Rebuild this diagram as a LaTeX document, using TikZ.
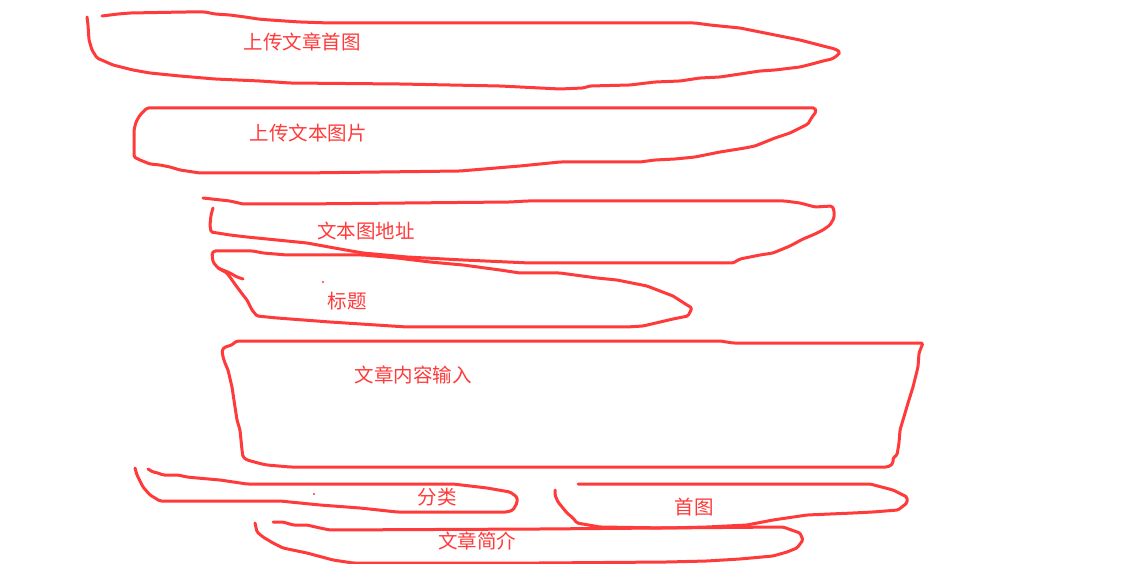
\documentclass[tikz,border=0pt]{standalone}
\usepackage{fontspec}
\newfontfamily\cjk{Noto Sans CJK SC}
\definecolor{pen}{RGB}{255,58,58}
\tikzset{
  stroke/.style={draw=pen, line width=3pt, line join=round, line cap=round, rounded corners=1.5pt},
  lbl/.style={text=pen, font=\cjk\fontsize{19.5}{20}\selectfont, inner sep=0pt, anchor=center},
  speck/.style={fill=pen, draw=none}
}
\begin{document}
\begin{tikzpicture}[x=1pt,y=-1pt]
\useasboundingbox (0,0) rectangle (1128,564);
\fill[white] (0,0) rectangle (1128,564);

% shape 1: 上传文章首图
\draw[stroke] (87,17) -- (88,25) -- (89,40) -- (92,50) -- (97,58) -- (113,65) -- (133,70) -- (150,73) -- (180,76) -- (215,79) -- (260,81) -- (290,83) -- (400,84) -- (500,86) -- (560,89) -- (583,88) -- (590,86) -- (630,85) -- (655,82) -- (680,81) -- (700,78) -- (720,77) -- (740,74) -- (760,71) -- (775,70) -- (800,67) -- (812,64) -- (823,61) -- (832,59) -- (838,55) -- (840,52) -- (835,49) -- (823,46) -- (800,40) -- (760,32) -- (740,28) -- (710,25) -- (695,23) -- (560,23) -- (330,23) -- (300,22) -- (285,21) -- (270,20) -- (258,19) -- (245,17) -- (230,15) -- (215,14) -- (205,12) -- (185,12) -- (130,13) -- (118,14) -- (102,16);

% shape 2: 上传文本图片
\draw[stroke] (147,108) -- (140,115) -- (136,122) -- (134,130) -- (134,150) -- (134,157) -- (140,160) -- (150,164) -- (160,165) -- (170,167) -- (180,170) -- (200,173) -- (300,173) -- (460,171) -- (520,166) -- (560,162) -- (640,162) -- (655,160) -- (675,159) -- (695,157) -- (720,152) -- (745,148) -- (755,146) -- (770,140) -- (775,138) -- (790,133) -- (800,128) -- (808,124) -- (812,117) -- (816,112) -- (815,108) -- cycle;

% shape 3: 文本图地址
\draw[stroke] (203,198) -- (230,201) -- (243,204) -- (300,204) -- (510,202) -- (527,201) -- (785,201) -- (800,203) -- (815,207) -- (832,206) -- (834,210) -- (834,218) -- (830,225) -- (823,230) -- (815,234) -- (803,239) -- (790,246) -- (773,253) -- (760,255) -- (740,259) -- (733,263) -- (530,263) -- (463,260) -- (407,257) -- (363,253) -- (340,249) -- (307,243) -- (277,240) -- (247,237) -- (230,235) -- (211,232) -- (210,225) -- (211,215) -- (213,208);

% shape 4: 标题
\draw[stroke] (214,251) -- (253,251) -- (263,253) -- (287,255) -- (363,255) -- (397,258) -- (430,262) -- (463,265) -- (500,270) -- (520,273) -- (560,273) -- (597,278) -- (617,280) -- (647,286) -- (673,296) -- (687,305) -- (692,308) -- (688,316) -- (673,319) -- (643,326) -- (627,327) -- (500,327) -- (407,327) -- (330,322) -- (277,318) -- (257,316) -- (252,310) -- (247,300) -- (243,295) -- (237,287) -- (232,280) -- (227,273) -- (218,268) -- (213,262) -- (212,253) -- cycle;
\draw[stroke] (218,268) -- (230,273) -- (237,277) -- (243,279);

% shape 5: 文章内容输入
\draw[stroke] (222,350) -- (225,347) -- (232,345) -- (235,342) -- (238,341) -- (530,341) -- (720,341) -- (733,343) -- (923,343) -- (921,348) -- (919,353) -- (918,367) -- (913,387) -- (908,403) -- (903,420) -- (900,430) -- (899,443) -- (897,455) -- (893,458) -- (893,463) -- (890,466) -- (887,467) -- (530,467) -- (290,467) -- (267,465) -- (262,464) -- (247,460) -- (243,457) -- (242,450) -- (240,430) -- (237,420) -- (235,407) -- (232,387) -- (228,370) -- (225,363) -- (223,357) -- cycle;

% shape 6: 分类
\draw[stroke] (148,469) -- (153,472) -- (158,473) -- (163,475) -- (178,475) -- (187,477) -- (197,478) -- (220,480) -- (247,484) -- (453,484) -- (487,488) -- (510,492) -- (517,497) -- (517,503) -- (513,510) -- (507,512) -- (397,512) -- (360,508) -- (320,505) -- (280,501) -- (160,501) -- (150,495) -- (143,487) -- (137,475) -- (135,468);

% shape 7: 文章简介
\draw[stroke] (273,522) -- (283,522) -- (293,525) -- (307,525) -- (320,528) -- (330,530) -- (540,529) -- (783,527) -- (800,533) -- (803,540) -- (797,548) -- (787,552) -- (773,556) -- (740,559) -- (707,561) -- (667,562) -- (540,563) -- (353,563) -- (333,560) -- (307,553) -- (283,548) -- (273,543) -- (263,537) -- (257,532) -- (255,523);

% shape 8: 首图
\draw[stroke] (578,484) -- (870,484) -- (893,490) -- (907,497) -- (907,503) -- (898,510) -- (873,512) -- (853,513) -- (807,515) -- (773,520) -- (747,525) -- (707,527) -- (667,528) -- (600,527) -- (577,523) -- (573,518) -- (567,513) -- (558,502) -- (555,495) -- (555,490);

% specks
\fill[speck] (323,282) circle (1.2);
\fill[speck] (314,494) circle (1.2);

% labels
\node[lbl] (t1) at (302,42) {上传文章首图};
\node[lbl] (t2) at (308,133) {上传文本图片};
\node[lbl] (t3) at (366,231) {文本图地址};
\node[lbl] (t4) at (347,301) {标题};
\node[lbl] (t5) at (413,375) {文章内容输入};
\node[lbl] (t6) at (437,497) {分类};
\node[lbl] (t7) at (694,507) {首图};
\node[lbl] (t8) at (477,541) {文章简介};
\end{tikzpicture}
\end{document}
